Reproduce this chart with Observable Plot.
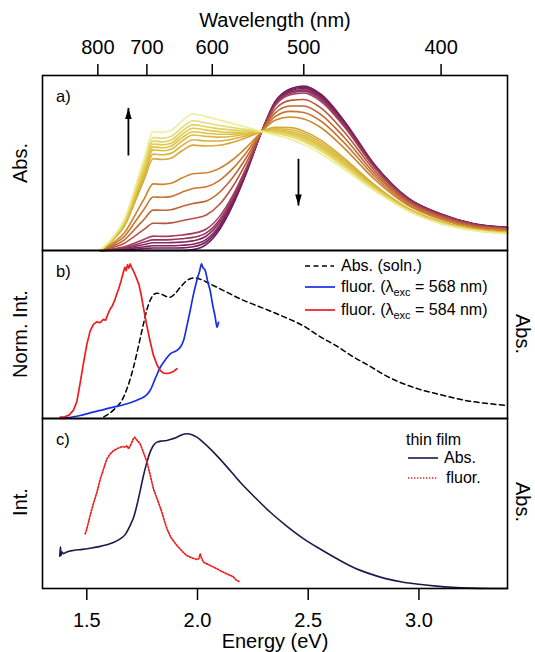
<!DOCTYPE html>
<html>
<head>
<meta charset="utf-8">
<script src="https://cdn.jsdelivr.net/npm/d3@7"></script>
<script src="https://cdn.jsdelivr.net/npm/@observablehq/plot@0.6"></script>
<style>
  html, body { margin: 0; padding: 0; background: #fff; }
  #chart { position: relative; width: 535px; height: 652px; overflow: hidden;
           font-family: "Liberation Sans", Arial, Helvetica, sans-serif; color: #000; }
  #chart svg { overflow: visible; }
  .panel { position: absolute; left: 0; }
  .t { position: absolute; white-space: nowrap; line-height: 1; }
  .sub { font-size: 11px; position: relative; top: 4px; }
</style>
</head>
<body>
<div id="chart"></div>
<script>
// ---------------- DATA ----------------
// x axis: photon energy (eV); top axis shows wavelength (nm)
const waveTicks = [800, 700, 600, 500, 400];
const energyTicks = [1.5, 2.0, 2.5, 3.0];

// Panel a: absorption series (purple -> yellow)
const energyA = [1.56, 1.62, 1.67, 1.72, 1.76, 1.80, 1.84, 1.88, 1.93, 1.98, 2.04, 2.10, 2.16, 2.22, 2.29, 2.35, 2.42, 2.48, 2.56, 2.66, 2.80, 2.95, 3.10, 3.25, 3.40];
const seriesLevel = [0, 0.02, 0.04, 0.065, 0.09, 0.12, 0.23, 0.34, 0.45, 0.56, 0.77, 0.81, 0.845, 0.87, 0.895, 0.92, 0.95, 1];
const absCurves = [
  [0,0,0,0,0,0,0,0,0,0.005,0.035,0.12,0.26,0.44,0.68,0.85,0.925,0.94,0.89,0.745,0.49,0.30,0.208,0.152,0.133],
  [0,0.002,0.004,0.007,0.011,0.014,0.014,0.014,0.015,0.021,0.050,0.133,0.269,0.445,0.68,0.846,0.919,0.933,0.883,0.739,0.487,0.299,0.207,0.151,0.132],
  [0,0.003,0.007,0.015,0.021,0.027,0.027,0.027,0.030,0.036,0.064,0.145,0.279,0.451,0.68,0.842,0.913,0.927,0.876,0.734,0.484,0.297,0.206,0.150,0.131],
  [0,0.005,0.012,0.024,0.034,0.044,0.044,0.045,0.048,0.055,0.083,0.161,0.290,0.457,0.68,0.838,0.906,0.918,0.868,0.727,0.480,0.295,0.204,0.150,0.131],
  [0,0.007,0.016,0.033,0.048,0.061,0.061,0.062,0.067,0.075,0.101,0.176,0.302,0.464,0.68,0.833,0.899,0.910,0.859,0.720,0.477,0.293,0.203,0.149,0.130],
  [0,0.010,0.022,0.044,0.064,0.082,0.081,0.082,0.089,0.098,0.123,0.195,0.316,0.472,0.68,0.827,0.890,0.900,0.849,0.711,0.472,0.291,0.201,0.147,0.128],
  [0,0.018,0.041,0.085,0.122,0.156,0.155,0.158,0.170,0.183,0.203,0.264,0.367,0.501,0.68,0.806,0.858,0.863,0.812,0.681,0.456,0.283,0.195,0.143,0.124],
  [0,0.027,0.061,0.126,0.180,0.231,0.230,0.233,0.252,0.269,0.283,0.333,0.418,0.530,0.68,0.785,0.826,0.826,0.774,0.650,0.439,0.275,0.189,0.139,0.120],
  [0,0.036,0.081,0.167,0.239,0.306,0.304,0.308,0.333,0.354,0.364,0.401,0.469,0.559,0.68,0.765,0.795,0.789,0.737,0.619,0.423,0.266,0.183,0.134,0.116],
  [0,0.045,0.101,0.207,0.297,0.381,0.378,0.384,0.414,0.439,0.444,0.470,0.520,0.588,0.68,0.744,0.763,0.752,0.700,0.588,0.406,0.258,0.177,0.130,0.112],
  [0,0.062,0.139,0.285,0.408,0.524,0.520,0.527,0.570,0.602,0.597,0.601,0.618,0.644,0.68,0.704,0.702,0.682,0.628,0.529,0.375,0.242,0.165,0.122,0.104],
  [0,0.065,0.146,0.300,0.429,0.551,0.547,0.555,0.599,0.633,0.626,0.626,0.637,0.655,0.68,0.696,0.690,0.669,0.615,0.518,0.369,0.239,0.163,0.120,0.102],
  [0,0.068,0.152,0.313,0.448,0.575,0.570,0.579,0.625,0.660,0.652,0.648,0.653,0.664,0.68,0.689,0.680,0.657,0.603,0.508,0.363,0.237,0.161,0.119,0.101],
  [0,0.070,0.157,0.322,0.461,0.592,0.587,0.596,0.644,0.679,0.670,0.664,0.665,0.671,0.68,0.685,0.673,0.649,0.594,0.501,0.360,0.235,0.159,0.118,0.100],
  [0,0.072,0.161,0.331,0.474,0.609,0.604,0.613,0.662,0.699,0.688,0.679,0.676,0.677,0.68,0.680,0.665,0.640,0.586,0.494,0.356,0.233,0.158,0.117,0.099],
  [0,0.074,0.166,0.340,0.488,0.626,0.621,0.630,0.681,0.718,0.707,0.695,0.688,0.684,0.68,0.675,0.658,0.632,0.577,0.487,0.352,0.231,0.157,0.116,0.098],
  [0,0.076,0.171,0.352,0.504,0.646,0.641,0.651,0.703,0.741,0.729,0.714,0.702,0.692,0.68,0.670,0.650,0.622,0.567,0.479,0.348,0.229,0.155,0.115,0.097],
  [0,0.080,0.180,0.370,0.530,0.680,0.675,0.685,0.740,0.780,0.765,0.745,0.725,0.705,0.68,0.660,0.635,0.605,0.550,0.465,0.340,0.225,0.152,0.113,0.095]
];
// arrows in panel a (energy, start, tip)
const arrowE = [1.688, 2.456];
const arrowFrom = [0.543, 0.524];
const arrowTo = [0.815, 0.257];

// Panel b: solution absorption (dashed)
const solnE = [1.577,1.62,1.666,1.69,1.711,1.735,1.756,1.772,1.786,1.80,1.817,1.84,1.862,1.877,1.90,1.925,1.952,1.975,1.99,2.02,2.057,2.12,2.193,2.29,2.40,2.48,2.55,2.63,2.70,2.78,2.85,2.93,3.00,3.08,3.16,3.23,3.32,3.40];
const solnV = [0.01,0.05,0.127,0.21,0.305,0.44,0.563,0.65,0.702,0.735,0.746,0.738,0.725,0.722,0.745,0.785,0.821,0.835,0.837,0.825,0.801,0.76,0.712,0.66,0.60,0.55,0.49,0.43,0.37,0.31,0.255,0.207,0.175,0.147,0.122,0.103,0.088,0.077];
// Panel b: fluorescence, excitation 568 nm (blue)
const fl568E = [1.38,1.42,1.47,1.52,1.561,1.60,1.651,1.70,1.741,1.765,1.786,1.81,1.832,1.855,1.877,1.907,1.925,1.937,1.952,1.967,1.982,1.997,2.01,2.018,2.024,2.035,2.047,2.057,2.068,2.08,2.088,2.095];
const fl568V = [0.0,0.005,0.018,0.035,0.048,0.062,0.077,0.095,0.117,0.135,0.167,0.24,0.305,0.35,0.385,0.405,0.43,0.464,0.55,0.643,0.74,0.821,0.88,0.92,0.90,0.88,0.81,0.762,0.68,0.603,0.543,0.573];
// Panel b: fluorescence, excitation 584 nm (red)
const fl584E = [1.38,1.40,1.42,1.44,1.455,1.47,1.485,1.50,1.515,1.53,1.545,1.56,1.575,1.585,1.595,1.605,1.615,1.625,1.635,1.645,1.655,1.665,1.672,1.678,1.684,1.690,1.696,1.702,1.71,1.72,1.735,1.745,1.756,1.77,1.786,1.80,1.817,1.832,1.847,1.862,1.877,1.892,1.907];
const fl584V = [0.008,0.01,0.02,0.05,0.10,0.21,0.33,0.44,0.52,0.56,0.575,0.57,0.59,0.585,0.62,0.65,0.67,0.70,0.74,0.775,0.82,0.87,0.90,0.88,0.915,0.895,0.92,0.90,0.88,0.85,0.80,0.74,0.66,0.56,0.46,0.38,0.32,0.285,0.27,0.268,0.272,0.28,0.296];

// Panel c: thin film absorption (navy)
const filmAbsE = [1.378,1.381,1.384,1.388,1.395,1.41,1.44,1.48,1.515,1.55,1.591,1.62,1.651,1.675,1.696,1.712,1.726,1.742,1.756,1.772,1.786,1.80,1.817,1.84,1.862,1.885,1.907,1.93,1.952,1.975,1.997,2.03,2.072,2.13,2.193,2.26,2.33,2.40,2.48,2.55,2.63,2.70,2.78,2.85,2.93,3.00,3.08,3.15,3.23,3.32,3.40];
const filmAbsV = [0.19,0.245,0.195,0.215,0.205,0.215,0.224,0.23,0.237,0.245,0.257,0.27,0.292,0.32,0.371,0.42,0.488,0.58,0.665,0.745,0.802,0.84,0.861,0.868,0.871,0.88,0.89,0.905,0.91,0.905,0.89,0.855,0.802,0.72,0.625,0.535,0.447,0.37,0.292,0.235,0.175,0.127,0.086,0.058,0.037,0.025,0.014,0.007,0.002,0.0,0.0];
// Panel c: thin film fluorescence (red dotted)
const filmFlE = [1.493,1.50,1.515,1.53,1.546,1.56,1.576,1.59,1.606,1.62,1.636,1.65,1.662,1.674,1.682,1.689,1.70,1.708,1.716,1.725,1.741,1.756,1.772,1.786,1.801,1.82,1.839,1.85,1.862,1.88,1.907,1.93,1.952,1.975,1.997,2.006,2.012,2.018,2.027,2.05,2.088,2.11,2.133,2.16,2.175,2.193];
const filmFlV = [0.322,0.35,0.429,0.50,0.567,0.64,0.704,0.76,0.792,0.81,0.822,0.83,0.835,0.831,0.84,0.822,0.85,0.875,0.89,0.875,0.851,0.80,0.743,0.67,0.586,0.52,0.449,0.40,0.351,0.30,0.253,0.22,0.194,0.18,0.171,0.175,0.204,0.18,0.155,0.14,0.116,0.10,0.086,0.07,0.05,0.037];

// ---------------- LAYOUT ----------------
const W = 535, ML = 42, MR = 28;
const xDomain = [1.3, 3.4];
const FONT = '"Liberation Sans", Arial, Helvetica, sans-serif';
const baseStyle = {fontFamily: FONT, fontSize: "20px", color: "black", background: "transparent"};

const absRows = absCurves.flatMap((vals, k) => vals.map((v, i) => ({E: energyA[i], v, k, level: seriesLevel[k]})));
const arrowRows = arrowE.map((E, i) => ({E, from: arrowFrom[i], to: arrowTo[i]}));
const zipRows = (xs, ys) => xs.map((E, i) => ({E, v: ys[i]}));

// narrow filled arrow head, tip at origin
const arrowHead = {draw(ctx) { ctx.moveTo(0, 0); ctx.lineTo(3.3, 11); ctx.lineTo(-3.3, 11); ctx.closePath(); }};

const chart = document.getElementById("chart");

const pa = Plot.plot({
  width: W, height: 250, marginLeft: ML, marginRight: MR, marginTop: 75, marginBottom: 0,
  style: baseStyle,
  x: {domain: xDomain},
  y: {domain: [0, 1], axis: null},
  color: {type: "linear", domain: [0, 0.06, 0.12, 0.25, 0.5, 0.77, 0.9, 1],
          range: ["#6a1b5d", "#86295f", "#a3405c", "#bb5a36", "#cb7c2e", "#d6a834", "#dfca4c", "#eeee9a"]},
  marks: [
    Plot.line(absRows, {x: "E", y: "v", z: "k", stroke: "level", strokeWidth: 1.6, curve: "monotone-x"}),
    Plot.link(arrowRows, {x1: "E", x2: "E", y1: "from", y2: "to", stroke: "black", strokeWidth: 1.8}),
    Plot.dot(arrowRows, {x: "E", y: "to", symbol: arrowHead, r: 4, fill: "black", stroke: "none",
                         rotate: d => (d.to < d.from ? 180 : 0)}),
    Plot.axisX({anchor: "top", ticks: waveTicks.map(w => 1240 / w), tickFormat: d => String(Math.round(1240 / d)),
                tickSize: 12, tickPadding: 10, strokeWidth: 1.5, label: null, fontSize: 20}),
    Plot.frame({stroke: "black", strokeWidth: 1.6})
  ]
});

const pb = Plot.plot({
  width: W, height: 168, marginLeft: ML, marginRight: MR, marginTop: 0, marginBottom: 0,
  style: baseStyle,
  x: {domain: xDomain, axis: null},
  y: {domain: [0, 1], axis: null},
  marks: [
    Plot.line(zipRows(solnE, solnV), {x: "E", y: "v", stroke: "black", strokeWidth: 1.5, strokeDasharray: "5,3.5", curve: "monotone-x"}),
    Plot.line(zipRows(fl568E, fl568V), {x: "E", y: "v", stroke: "#1a2ee6", strokeWidth: 1.7, curve: "monotone-x"}),
    Plot.line(zipRows(fl584E, fl584V), {x: "E", y: "v", stroke: "#ee1c1c", strokeWidth: 1.7}),
    Plot.frame({stroke: "black", strokeWidth: 1.6})
  ]
});

const pc = Plot.plot({
  width: W, height: 234, marginLeft: ML, marginRight: MR, marginTop: 0, marginBottom: 64,
  style: baseStyle,
  x: {domain: xDomain},
  y: {domain: [0, 1], axis: null},
  marks: [
    Plot.line(zipRows(filmAbsE, filmAbsV), {x: "E", y: "v", stroke: "#1b1a4f", strokeWidth: 1.6, curve: "monotone-x"}),
    Plot.line(zipRows(filmFlE, filmFlV), {x: "E", y: "v", stroke: "#ee1c1c", strokeWidth: 1.7, strokeDasharray: "1.3,1.7"}),
    Plot.axisX({anchor: "bottom", ticks: energyTicks, tickFormat: d3.format(".1f"),
                tickSize: 12, tickPadding: 12, strokeWidth: 1.5, label: null, fontSize: 20}),
    Plot.frame({stroke: "black", strokeWidth: 1.6})
  ]
});

[[pa, 0], [pb, 250], [pc, 418]].forEach(([svg, top]) => {
  svg.classList.add("panel");
  svg.style.top = top + "px";
  chart.appendChild(svg);
});

// ---------------- TEXT OVERLAYS ----------------
function addText(html, x, y, opts = {}) {
  const d = document.createElement("div");
  d.className = "t";
  d.innerHTML = html;
  d.style.left = x + "px";
  d.style.top = y + "px";
  d.style.fontSize = (opts.size || 20) + "px";
  const ax = opts.anchor === "start" ? "0" : "-50%";
  d.style.transform = `translate(${ax}, -50%)`;
  if (opts.rotate) { d.style.transform = `translate(-50%, -50%) rotate(${opts.rotate}deg)`; }
  chart.appendChild(d);
}
function addSwatch(x, y, len, color, dash, width) {
  const ns = "http://www.w3.org/2000/svg";
  const s = document.createElementNS(ns, "svg");
  s.setAttribute("width", len); s.setAttribute("height", 6);
  s.style.position = "absolute"; s.style.left = x + "px"; s.style.top = (y - 3) + "px";
  const l = document.createElementNS(ns, "line");
  l.setAttribute("x1", 0); l.setAttribute("x2", len); l.setAttribute("y1", 3); l.setAttribute("y2", 3);
  l.setAttribute("stroke", color); l.setAttribute("stroke-width", width);
  if (dash) l.setAttribute("stroke-dasharray", dash);
  s.appendChild(l);
  chart.appendChild(s);
}

addText("Wavelength (nm)", 275, 20);
addText("Energy (eV)", 275, 641);
addText("Abs.", 20, 163, {rotate: -90});
addText("Norm. Int.", 20, 334, {rotate: -90});
addText("Int.", 20, 502, {rotate: -90});
addText("Abs.", 523, 334, {rotate: 90});
addText("Abs.", 523, 502, {rotate: 90});
addText("a)", 56, 96, {anchor: "start", size: 16.5});
addText("b)", 56, 271, {anchor: "start", size: 16.5});
addText("c)", 56, 439, {anchor: "start", size: 16.5});

// legend, panel b
addSwatch(305, 266, 29, "black", "5,3.5", 1.5);
addText("Abs. (soln.)", 341, 266, {anchor: "start", size: 16});
addSwatch(305, 287, 30, "#1a2ee6", null, 1.7);
addText('fluor. (λ<span class="sub">exc</span> = 568 nm)', 341, 287, {anchor: "start", size: 16});
addSwatch(305, 310, 30, "#ee1c1c", null, 1.7);
addText('fluor. (λ<span class="sub">exc</span> = 584 nm)', 341, 310, {anchor: "start", size: 16});

// legend, panel c
addText("thin film", 406, 440, {anchor: "start", size: 16});
addSwatch(408, 458, 30, "#1b1a4f", null, 1.6);
addText("Abs.", 444, 458, {anchor: "start", size: 16});
addSwatch(408, 478, 30, "#ee1c1c", "1.3,1.7", 1.7);
addText("fluor.", 446, 478, {anchor: "start", size: 16});
</script>
</body>
</html>
